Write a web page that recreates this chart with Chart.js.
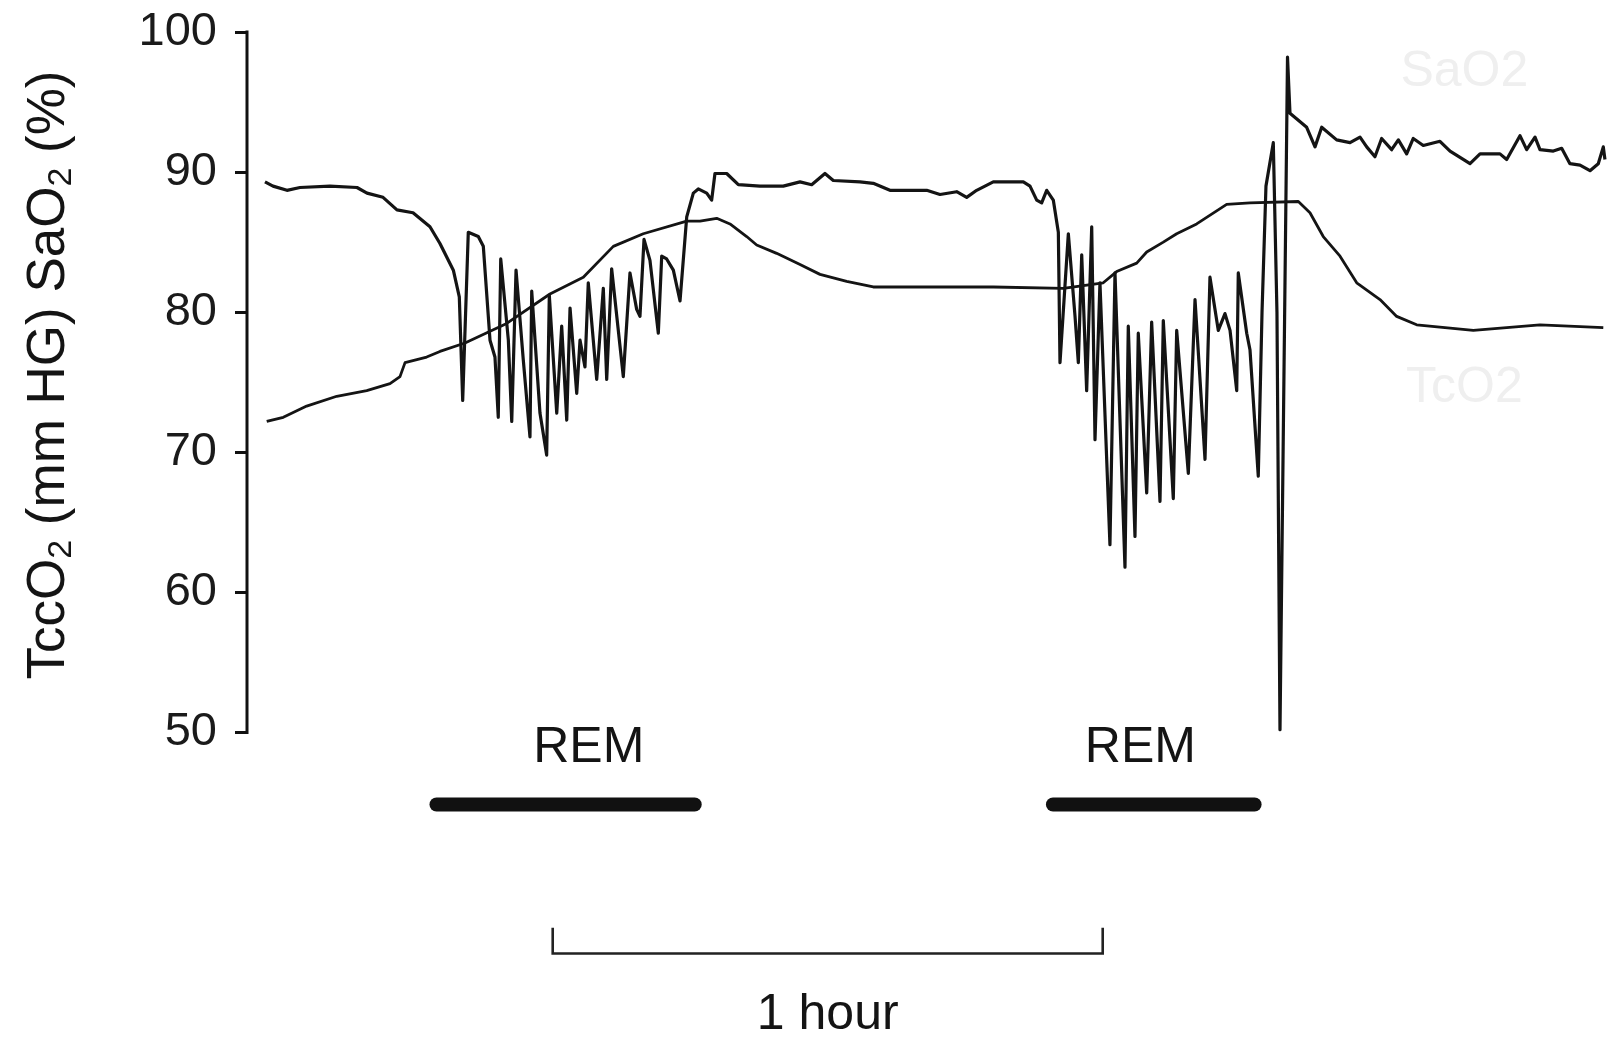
<!DOCTYPE html>
<html>
<head>
<meta charset="utf-8">
<title>TcCO2 / SaO2 during REM sleep</title>
<script src="https://cdn.jsdelivr.net/npm/chart.js@4/dist/chart.umd.min.js"></script>
<style>
	html, body { margin: 0; padding: 0; background: #ffffff; }
	#wrap { position: relative; width: 1611px; height: 1041px; }
</style>
</head>
<body>
<div id="wrap"><canvas id="trace"></canvas></div>
<script>
// time in minutes from the y axis, values in % / mm Hg
var sao2Time = [1.96, 2.84, 4.36, 5.78, 9.05, 12.00, 13.09, 14.84, 16.36, 18.11, 19.96, 21.05,
	22.51, 23.16, 23.53, 24.14, 25.23, 25.78, 26.51, 27.05, 27.41, 27.68, 28.51, 28.88, 29.35,
	30.14, 30.87, 31.06, 31.96, 32.69, 32.98, 33.79, 34.33, 34.88, 35.24, 35.97, 36.33, 36.87,
	37.23, 38.15, 38.87, 39.24, 39.78, 41.05, 41.78, 42.51, 42.87, 43.31, 43.96, 44.87, 45.24,
	45.78, 46.51, 47.24, 47.97, 48.69, 49.23, 50.15, 50.69, 51.05, 52.33, 53.60, 55.96, 58.50,
	60.33, 61.60, 63.05, 63.96, 66.87, 68.32, 70.14, 74.15, 75.60, 77.42, 78.51, 79.60, 81.41,
	84.69, 85.42, 86.15, 86.69, 87.24, 87.96, 88.51, 88.69, 89.60, 90.33, 90.69, 91.06, 91.60,
	92.15, 92.51, 93.05, 94.14, 94.69, 95.78, 96.14, 96.87, 97.23, 98.15, 98.69, 99.60, 99.96,
	101.05, 101.42, 102.69, 103.42, 104.51, 105.05, 105.96, 106.69, 107.24, 107.97, 108.14,
	109.06, 109.42, 110.32, 110.73, 111.16, 111.96, 112.36, 112.69, 113.51, 113.78, 115.60,
	116.51, 117.24, 118.87, 120.33, 121.42, 122.15, 123.05, 123.78, 124.87, 125.60, 126.51,
	127.23, 128.32, 130.14, 131.24, 133.42, 134.51, 136.69, 137.42, 138.87, 139.60, 140.51,
	141.05, 142.51, 143.42, 144.32, 145.42, 146.51, 147.41, 147.96, 148.14];
var sao2Value = [89.3, 89.0, 88.7, 88.9, 89.0, 88.9, 88.5, 88.2, 87.3, 87.1, 86.1, 84.9,
	83.0, 81.1, 73.7, 85.7, 85.4, 84.7, 78.0, 76.8, 72.5, 83.8, 78.0, 72.2, 83.0,
	76.6, 71.1, 81.5, 72.8, 69.8, 81.2, 72.8, 79.0, 72.3, 80.3, 74.2, 78.0, 76.1,
	82.1, 75.2, 81.7, 75.2, 83.1, 75.4, 82.8, 80.2, 79.7, 85.2, 83.7, 78.5, 84.0,
	83.8, 83.0, 80.8, 86.8, 88.5, 88.8, 88.5, 88.0, 89.9, 89.9, 89.1, 89.0, 89.0,
	89.3, 89.1, 89.9, 89.4, 89.3, 89.2, 88.7, 88.7, 88.4, 88.6, 88.2, 88.7, 89.3,
	89.3, 89.0, 88.0, 87.8, 88.7, 88.0, 85.7, 76.4, 85.6, 79.7, 76.4, 84.1, 74.4,
	86.1, 70.9, 82.1, 63.4, 82.8, 61.8, 79.0, 64.0, 78.5, 67.1, 79.3, 66.5, 79.4,
	66.7, 78.7, 68.5, 80.9, 69.5, 82.5, 78.7, 79.9, 78.7, 74.4, 82.8,
	78.5, 77.3, 68.3, 80.0, 89.0, 92.1, 80.0, 50.2, 98.2, 94.2, 93.2,
	91.8, 93.2, 92.3, 92.1, 92.5, 91.8, 91.1, 92.4, 91.6, 92.3, 91.3,
	92.4, 91.9, 92.2, 91.5, 90.6, 91.3, 91.3, 90.9, 92.6, 91.6, 92.5,
	91.6, 91.5, 91.7, 90.6, 90.5, 90.1, 90.6, 91.8, 90.9];

var tcco2Time = [2.15, 3.96, 6.51, 9.79, 13.06, 15.60, 16.69, 17.24, 19.60, 21.05, 23.78, 28.33,
	33.05, 36.69, 39.96, 43.23, 47.97, 49.42, 51.24, 52.69, 54.51, 55.60, 57.78, 60.33, 62.51,
	65.42, 68.32, 81.41, 89.05, 93.41, 94.87, 97.06, 98.15, 99.96, 101.42, 103.60, 106.87,
	109.42, 114.69, 115.96, 117.41, 119.24, 121.06, 123.60, 125.42, 127.60, 133.78, 141.05, 147.96];
var tcco2Value = [72.2, 72.5, 73.3, 74.0, 74.4, 74.9, 75.4, 76.4, 76.8, 77.2, 77.8, 79.2,
	81.3, 82.5, 84.7, 85.6, 86.5, 86.5, 86.7, 86.3, 85.4, 84.8, 84.2, 83.4, 82.7,
	82.2, 81.8, 81.8, 81.7, 82.1, 82.9, 83.5, 84.3, 85.0, 85.6, 86.3, 87.7,
	87.8, 87.9, 87.1, 85.4, 84.0, 82.1, 80.9, 79.7, 79.1, 78.7, 79.1, 78.9];

var yTicks = [50, 60, 70, 80, 90, 100];

// REM periods (minutes) and their labels
var remStart = [20.67, 87.92];
var remEnd = [48.84, 109.92];
var remLabels = ['REM', 'REM'];
var remLabelTime = [37.28, 97.46];

// one-hour scale bar
var hourStart = 33.35;
var hourEnd = 93.35;
var hourLabel = '1 hour';

var seriesNames = ['SaO2', 'TcO2'];

(function () {
	'use strict';

	var ink = '#141414';
	var font = '"Liberation Sans", Arial, Helvetica, sans-serif';

	var remY = 44.86, remTextY = 48.9;
	var barY = 34.23, barTickY = 36.07, barTextY = 29.84;

	function pts(xs, ys) {
		return xs.map(function (x, i) { return { x: x, y: ys[i] }; });
	}

	var datasets = [
		{ label: seriesNames[0], data: pts(sao2Time, sao2Value), borderColor: ink, borderWidth: 3.2, borderJoinStyle: 'round' },
		{ label: seriesNames[1], data: pts(tcco2Time, tcco2Value), borderColor: ink, borderWidth: 2.8, borderJoinStyle: 'round' }
	];

	remStart.forEach(function (s, i) {
		datasets.push({
			label: remLabels[i],
			data: [{ x: s, y: remY }, { x: remEnd[i], y: remY }],
			borderColor: '#111111',
			borderWidth: 14,
			borderCapStyle: 'round'
		});
	});

	datasets.push({
		label: hourLabel,
		data: [{ x: hourStart, y: barTickY }, { x: hourStart, y: barY }, { x: hourEnd, y: barY }, { x: hourEnd, y: barTickY }],
		borderColor: '#222222',
		borderWidth: 2.6
	});

	// axis line, axis title and the free text
	var decor = {
		id: 'decor',
		afterDatasetsDraw: function (chart) {
			var ctx = chart.ctx;
			var xs = chart.scales.x, ys = chart.scales.y;
			ctx.save();

			ctx.strokeStyle = '#111111';
			ctx.lineWidth = 3;
			ctx.beginPath();
			ctx.moveTo(chart.chartArea.left, ys.getPixelForValue(100) - 1.5);
			ctx.lineTo(chart.chartArea.left, ys.getPixelForValue(50) + 1.5);
			ctx.stroke();

			ctx.fillStyle = ink;
			ctx.textAlign = 'center';
			ctx.textBaseline = 'middle';
			ctx.font = '50px ' + font;
			remLabels.forEach(function (t, i) {
				ctx.fillText(t, xs.getPixelForValue(remLabelTime[i]), ys.getPixelForValue(remTextY));
			});
			ctx.fillText(hourLabel, xs.getPixelForValue((hourStart + hourEnd) / 2), ys.getPixelForValue(barTextY));

			// faint series names on the right
			ctx.fillStyle = '#efefef';
			ctx.fillText(seriesNames[0], xs.getPixelForValue(132.8), ys.getPixelForValue(97.1));
			ctx.fillText(seriesNames[1], xs.getPixelForValue(132.8), ys.getPixelForValue(74.6));

			// rotated y title with subscripts
			var parts = [['TccO', 0], ['2', 1], [' (mm HG) SaO', 0], ['2', 1], [' (%)', 0]];
			var big = '53px ' + font, small = '34px ' + font;
			var total = 0;
			parts.forEach(function (p) {
				ctx.font = p[1] ? small : big;
				total += ctx.measureText(p[0]).width;
			});
			ctx.translate(49, 375);
			ctx.rotate(-Math.PI / 2);
			ctx.fillStyle = ink;
			ctx.textAlign = 'left';
			var px = -total / 2;
			parts.forEach(function (p) {
				ctx.font = p[1] ? small : big;
				ctx.fillText(p[0], px, p[1] ? 13 : 0);
				px += ctx.measureText(p[0]).width;
			});

			ctx.restore();
		}
	};

	new Chart(document.getElementById('trace'), {
		type: 'line',
		data: { datasets: datasets },
		options: {
			responsive: true,
			maintainAspectRatio: false,
			animation: false,
			layout: { padding: { top: 32, right: 0, bottom: 0, left: 0 } },
			elements: {
				point: { radius: 0, hoverRadius: 0 },
				line: { tension: 0, fill: false }
			},
			plugins: {
				legend: { display: false },
				tooltip: { enabled: false }
			},
			scales: {
				x: {
					type: 'linear',
					min: 0,
					max: 148.8,
					display: false
				},
				y: {
					min: 27.98,
					max: 100,
					afterBuildTicks: function (axis) {
						axis.ticks = yTicks.map(function (v) { return { value: v }; });
					},
					afterFit: function (axis) {
						axis.width = 247;
						axis.paddingTop = 0;
						axis.paddingBottom = 0;
					},
					border: { display: false },
					grid: {
						drawOnChartArea: false,
						drawTicks: true,
						tickLength: 12,
						lineWidth: 3,
						color: '#111111'
					},
					ticks: {
						padding: 18,
						color: '#1a1a1a',
						font: { family: font, size: 47 }
					}
				}
			}
		},
		plugins: [decor]
	});
})();
</script>
</body>
</html>
